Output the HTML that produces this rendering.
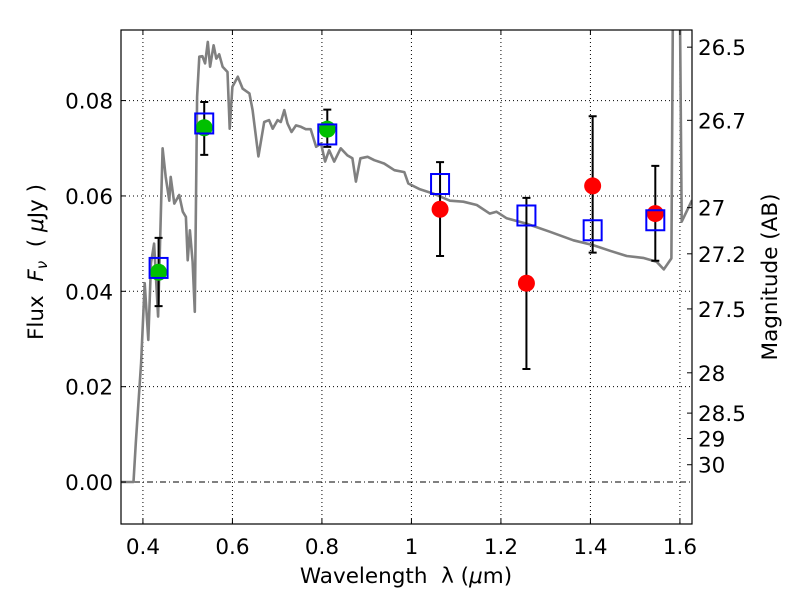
<!DOCTYPE html>
<html><head><meta charset="utf-8"><style>
html,body{margin:0;padding:0;background:#fff;}
svg{display:block;font-family:"DejaVu Sans","Liberation Sans",sans-serif;}
</style></head><body>
<svg id="chart" width="800" height="600" viewBox="0 0 800 600">
<defs><clipPath id="clip"><rect x="121" y="30" width="571" height="494"/></clipPath></defs>
<g id="grid"></g>
<g id="series" clip-path="url(#clip)"></g>
<rect x="121" y="30" width="571" height="494" fill="none" stroke="#000" stroke-width="1.2"/>
<g id="axes"></g>
<text x="406" y="583" font-size="21.5" text-anchor="middle" xml:space="preserve">Wavelength  λ (<tspan font-style="italic">μ</tspan>m)</text>
<text transform="translate(43,262) rotate(-90)" font-size="21.5" text-anchor="middle" xml:space="preserve">Flux  <tspan font-style="italic">F<tspan font-size="15" dy="4">ν</tspan></tspan><tspan dy="-4">  ( </tspan><tspan font-style="italic">μ</tspan>Jy )</text>
<text transform="translate(777,277) rotate(-90)" font-size="21.5" text-anchor="middle">Magnitude (AB)</text>
</svg>
<script>
const xTicks=[0.4,0.6,0.8,1.0,1.2,1.4,1.6];
const xTickLabels=["0.4","0.6","0.8","1","1.2","1.4","1.6"];
const yTicks=[0,0.02,0.04,0.06,0.08];
const yTickLabels=["0.00","0.02","0.04","0.06","0.08"];
const magTicks=[26.5,26.7,27,27.2,27.5,28,28.5,29,30];
const magTickLabels=["26.5","26.7","27","27.2","27.5","28","28.5","29","30"];
const sedWave=[0.351,0.379,0.384,0.396,0.404,0.412,0.418,0.425,0.434,0.439,0.444,0.451,0.459,0.462,0.470,0.481,0.489,0.496,0.500,0.505,0.511,0.516,0.521,0.526,0.533,0.539,0.545,0.550,0.558,0.564,0.5705,0.578,0.589,0.594,0.600,0.612,0.623,0.638,0.645,0.658,0.671,0.682,0.690,0.701,0.708,0.716,0.723,0.732,0.742,0.753,0.764,0.775,0.787,0.798,0.807,0.816,0.8275,0.842,0.857,0.868,0.876,0.886,0.902,0.917,0.939,0.962,0.984,0.993,1.019,1.049,1.086,1.116,1.146,1.175,1.190,1.213,1.257,1.309,1.362,1.406,1.444,1.481,1.518,1.548,1.564,1.581,1.585,1.598,1.599,1.604,1.627];
const sedFlux=[0,0,0.0082,0.025,0.0417,0.0298,0.0459,0.050,0.0347,0.0528,0.070,0.064,0.059,0.064,0.0584,0.0602,0.0567,0.0556,0.0465,0.0528,0.0462,0.0357,0.0808,0.0892,0.0893,0.0878,0.0923,0.0871,0.0916,0.0888,0.0897,0.0871,0.086,0.0741,0.0829,0.085,0.0825,0.0815,0.078,0.0683,0.0755,0.0759,0.0741,0.0759,0.0755,0.078,0.0752,0.0734,0.0748,0.0745,0.074,0.074,0.0703,0.071,0.0672,0.0696,0.0672,0.070,0.0685,0.0679,0.063,0.0679,0.0682,0.0675,0.0668,0.0654,0.065,0.0626,0.0614,0.0605,0.059,0.0588,0.0581,0.0563,0.0567,0.0553,0.0542,0.0525,0.0507,0.0497,0.0485,0.0474,0.047,0.0462,0.0446,0.0469,0.11,0.12,0.11,0.0546,0.0591];
const bandWave=[0.435,0.537,0.812,1.064,1.257,1.405,1.545];
const obsFlux=[0.044,0.0743,0.074,0.0572,0.0417,0.0621,0.0563];
const errHigh=[0.0512,0.0797,0.0781,0.0671,0.0596,0.0767,0.0663];
const errLow=[0.0369,0.0686,0.0703,0.0474,0.0237,0.0481,0.0464];
const modelFlux=[0.0449,0.0752,0.0729,0.0625,0.0559,0.0528,0.0549];
const obsColor=["#00c000","#00c000","#00c000","#ff0000","#ff0000","#ff0000","#ff0000"];

const X0=121,X1=692,Y0=30,Y1=524,XMIN=0.351,XMAX=1.627,YMIN=-0.0088,YMAX=0.0948;
const sx=v=>X0+(v-XMIN)/(XMAX-XMIN)*(X1-X0);
const sy=v=>Y1-(v-YMIN)/(YMAX-YMIN)*(Y1-Y0);
const magToFlux=m=>Math.pow(10,(23.9-m)/2.5);
const NS="http://www.w3.org/2000/svg";
function mk(parent,tag,attrs){const e=document.createElementNS(NS,tag);for(const k in attrs)e.setAttribute(k,attrs[k]);parent.appendChild(e);return e;}
const grid=document.getElementById('grid'),axes=document.getElementById('axes'),series=document.getElementById('series');

xTicks.forEach((t,i)=>{
  const x=sx(t);
  const g=mk(grid,'line',{x1:x,x2:x,y1:Y0,y2:Y1,stroke:'#000','stroke-width':1,'stroke-dasharray':'1,3'});
  
  
  const a=mk(axes,'line',{x1:x,x2:x,y1:Y1,y2:Y1-5,stroke:'#000'});
  
  
  const b=mk(axes,'line',{x1:x,x2:x,y1:Y0,y2:Y0+5,stroke:'#000'});
  
  
  const l=mk(axes,'text',{x:x,y:Y1+30,'font-size':21.5,'text-anchor':'middle'});
  l.textContent=xTickLabels[i];
  
  
});
yTicks.forEach((t,i)=>{
  const y=sy(t);
  const g=mk(grid,'line',{x1:X0,x2:X1,y1:y,y2:y,stroke:'#000','stroke-width':1,'stroke-dasharray':t===0?'6,3,1,3':'1,3'});
  
  
  const a=mk(axes,'line',{x1:X0,x2:X0+5,y1:y,y2:y,stroke:'#000'});
  
  
  const l=mk(axes,'text',{x:X0-8,y:y+8,'font-size':21.5,'text-anchor':'end'});
  l.textContent=yTickLabels[i];
  
  
});
magTicks.forEach((m,i)=>{
  const y=sy(magToFlux(m));
  const a=mk(axes,'line',{x1:X1,x2:X1-5,y1:y,y2:y,stroke:'#000'});
  
  
  const l=mk(axes,'text',{x:X1+6,y:y+8,'font-size':21.5,'text-anchor':'start'});
  l.textContent=magTickLabels[i];
  
  
});
const pts=sedWave.map((w,i)=>sx(w).toFixed(1)+','+sy(sedFlux[i]).toFixed(1)).join(' ');
const sed=mk(series,'polyline',{points:pts,fill:'none',stroke:'#808080','stroke-width':2.6,'stroke-linejoin':'round'});


bandWave.forEach((w,i)=>{
  const x=sx(w);
  const e=mk(series,'path',{d:`M${x},${sy(errHigh[i])}V${sy(errLow[i])}M${x-4},${sy(errHigh[i])}h8M${x-4},${sy(errLow[i])}h8`,stroke:'#000','stroke-width':2,fill:'none'});
  
  
  const c=mk(series,'circle',{cx:x,cy:sy(obsFlux[i]),r:8.5,fill:obsColor[i]});
  
  
});
bandWave.forEach((w,i)=>{
  const x=sx(w),y=sy(modelFlux[i]);
  const s=mk(series,'rect',{x:x-9,y:y-10,width:18,height:20,fill:'none',stroke:'#0000ff','stroke-width':2});
  
  
});
</script>
</body></html>
